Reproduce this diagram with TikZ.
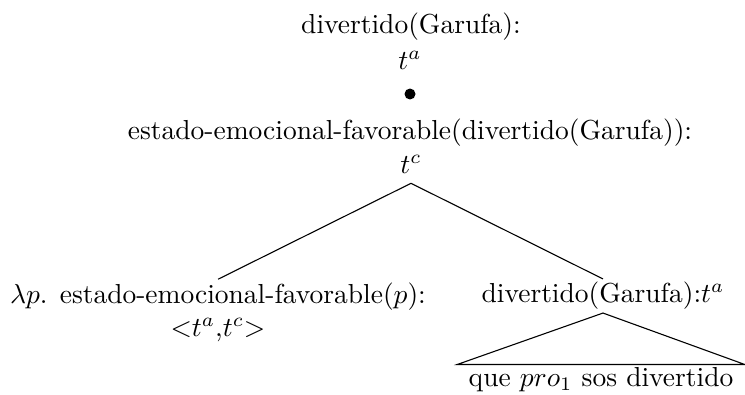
\documentclass[tikz,border=0pt]{standalone}
\usepackage{amsmath}
\usetikzlibrary{positioning}

\begin{document}
\begin{tikzpicture}[
    x=0.01279cm,
    y=-0.01279cm,
    lbl/.style={
        inner sep=1pt,
        align=center
      },
    dot/.style={
        circle,
        fill,
        inner sep=0pt,
        minimum size=4pt
      },
    edge/.style={thin}
    ]

    \useasboundingbox (0,0) rectangle (745,395);

    \node[lbl] (top) at (411,27) {divertido(Garufa):};
    \node[lbl] (topt) at (410,60) {$t^a$};
    \node[dot] (dot) at (410,94) {};
    \node[lbl] (root) at (410,133) {estado-emocional-favorable(divertido(Garufa)):};
    \node[lbl] (roott) at (411,164) {$t^c$};
    \coordinate[below=2.5pt of roott.south] (apex);

    \node[lbl] (left) at (218,312) {$\lambda p$. estado-emocional-favorable($p$):\\ $<$$t^a$,$t^c$$>$};
    \node[lbl] (right) at (603,296) {divertido(Garufa):$t^a$};
    \node[lbl,inner xsep=4pt] (leaf) at (601,380) {que $pro_1$ sos divertido};

    \draw[edge] (apex) -- (left.north);
    \draw[edge] (apex) -- (right.north);
    \draw[edge] (right.south) -- (leaf.north west) -- (leaf.north east) -- cycle;

  \end{tikzpicture}
\end{document}
